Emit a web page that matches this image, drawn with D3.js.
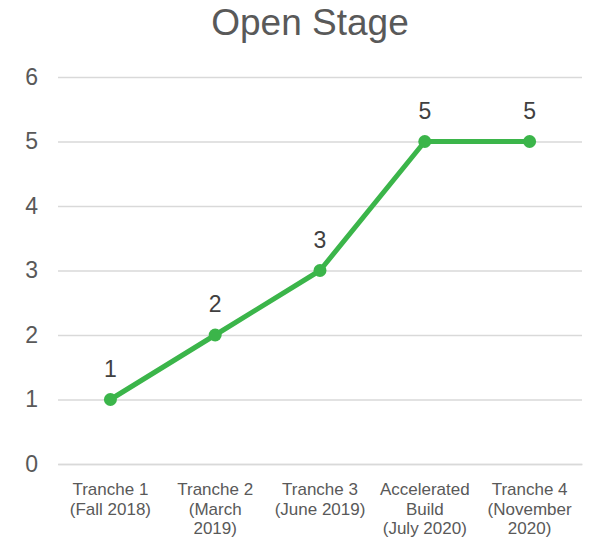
<!DOCTYPE html>
<html><head><meta charset="utf-8">
<script src="https://cdn.jsdelivr.net/npm/d3@7"></script>
<style>body{margin:0;background:#fff;font-family:"Liberation Sans",Arial,sans-serif;}</style>
</head><body>
<svg id="c" width="590" height="541"></svg>
<script>
const categories = [
  ["Tranche 1","(Fall 2018)"],
  ["Tranche 2","(March","2019)"],
  ["Tranche 3","(June 2019)"],
  ["Accelerated","Build","(July 2020)"],
  ["Tranche 4","(November","2020)"]
];
const values = [1, 2, 3, 5, 5];
const yTicks = [0, 1, 2, 3, 4, 5, 6];
const title = "Open Stage";

(function() {
const svg = d3.select("#c");
const mLeft = 58, mRight = 582, mTop = 77, mBottom = 464;
const ff = "Liberation Sans, Arial, sans-serif";
const x = d3.scaleBand().domain(d3.range(categories.length)).range([mLeft, mRight]);
const y = d3.scaleLinear().domain([0, 6]).range([mBottom, mTop]);
const txt = "#595959";

svg.append("text").attr("x", 310).attr("y", 35).attr("text-anchor", "middle")
  .attr("font-size", 37).attr("font-family", ff).attr("fill", txt).text(title);

const yAxis = svg.append("g").attr("transform", `translate(${mLeft},0)`)
  .call(d3.axisLeft(y).tickValues(yTicks).tickSize(-(mRight - mLeft)).tickPadding(20).tickFormat(d3.format("d")));
yAxis.select(".domain").remove();
yAxis.selectAll(".tick line").attr("stroke", "#d9d9d9").attr("stroke-width", 1.3);
yAxis.selectAll(".tick text").attr("fill", txt).attr("font-size", 23).attr("font-family", ff);

const xAxis = svg.append("g").attr("transform", `translate(0,${mBottom})`)
  .call(d3.axisBottom(x).tickSize(0).tickFormat(""));
xAxis.select(".domain").attr("stroke", "#d9d9d9").attr("stroke-width", 1.3);
xAxis.selectAll(".tick").each(function(d) {
  const t = d3.select(this).append("text").attr("fill", txt).attr("font-size", 17)
    .attr("text-anchor", "middle").attr("font-family", ff);
  categories[d].forEach((line, i) => {
    t.append("tspan").attr("x", 0).attr("y", 31 + i * 19.7).text(line);
  });
});

const cx = i => x(i) + x.bandwidth() / 2;
const line = d3.line().x((d, i) => cx(i)).y(d => y(d));
svg.append("path").datum(values).attr("d", line).attr("fill", "none")
  .attr("stroke", "#3bb54a").attr("stroke-width", 5).attr("stroke-linejoin", "round");
svg.selectAll("circle.pt").data(values).join("circle").attr("class", "pt")
  .attr("cx", (d, i) => cx(i)).attr("cy", d => y(d)).attr("r", 6.5).attr("fill", "#3bb54a");
svg.selectAll("text.lbl").data(values).join("text").attr("class", "lbl")
  .attr("x", (d, i) => cx(i)).attr("y", d => y(d) - 23).attr("text-anchor", "middle")
  .attr("font-size", 23).attr("font-family", ff).attr("fill", "#404040").text(d => d);
})();
</script>
</body></html>
